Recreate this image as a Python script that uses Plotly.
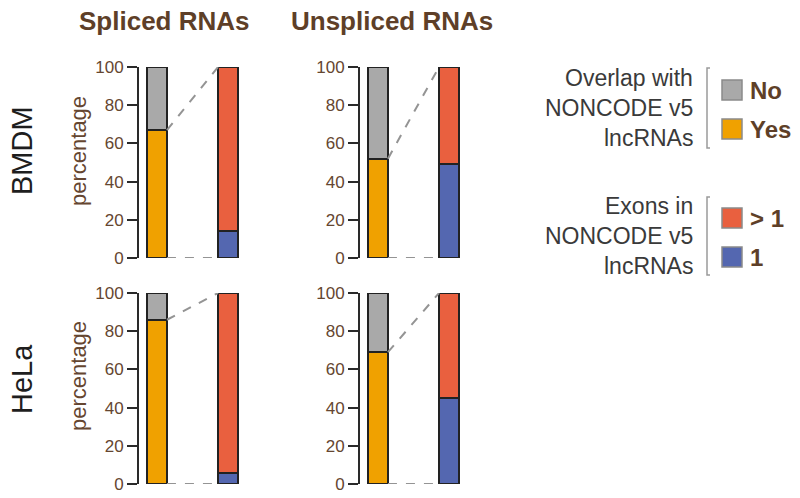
import plotly.graph_objects as go

W, H = 800, 498

# ---- data ----
cells = ["BMDM", "HeLa"]
rna_types = ["Spliced RNAs", "Unspliced RNAs"]
# overlap with NONCODE v5 lncRNAs (% Yes); No = 100 - Yes
overlap_yes = {("BMDM", "Spliced RNAs"): 67, ("BMDM", "Unspliced RNAs"): 52,
               ("HeLa", "Spliced RNAs"): 86, ("HeLa", "Unspliced RNAs"): 69}
# exons in NONCODE v5 lncRNAs (% with 1 exon); >1 = 100 - one
exon_one = {("BMDM", "Spliced RNAs"): 14, ("BMDM", "Unspliced RNAs"): 49,
            ("HeLa", "Spliced RNAs"): 6, ("HeLa", "Unspliced RNAs"): 45}
tick_vals = [0, 20, 40, 60, 80, 100]
overlap_labels = ["No", "Yes"]
overlap_colors = ["#a9a9a9", "#f0a100"]
exon_labels = ["> 1", "1"]
exon_colors = ["#e9603f", "#5467b0"]

BROWN = "#5e3f28"
TICKBROWN = "#654630"
FONT = "Liberation Sans, Arial, sans-serif"

def px(x):
    return x / W

def py(y):
    return 1 - y / H

BAR_W = 0.28
col_x = [(139, 245), (360, 466)]
row_y = [(67, 258), (293, 484)]
xr = [1 - 18 / 71, 2 + 17 / 71]

fig = go.Figure()
layout = {}
shapes = []
annotations = []
idx = 0
for r, cell in enumerate(cells):
    for c, rt in enumerate(rna_types):
        idx += 1
        xa = "x" if idx == 1 else f"x{idx}"
        ya = "y" if idx == 1 else f"y{idx}"
        yes = overlap_yes[(cell, rt)]
        one = exon_one[(cell, rt)]
        stack = [(1, yes, overlap_colors[1]), (1, 100 - yes, overlap_colors[0]),
                 (2, one, exon_colors[1]), (2, 100 - one, exon_colors[0])]
        for xv, val, col in stack:
            fig.add_trace(go.Bar(x=[xv], y=[val], width=BAR_W, xaxis=xa, yaxis=ya,
                                 marker=dict(color=col, line=dict(color="#222222", width=2)),
                                 showlegend=False, cliponaxis=False, hoverinfo="skip"))
        layout["xaxis" if idx == 1 else f"xaxis{idx}"] = dict(
            domain=[px(col_x[c][0]), px(col_x[c][1])], range=xr, visible=False,
            anchor=ya, automargin=False)
        layout["yaxis" if idx == 1 else f"yaxis{idx}"] = dict(
            domain=[py(row_y[r][1]), py(row_y[r][0])], range=[0, 100], anchor=xa,
            showline=True, linecolor="#2a2a2a", linewidth=2, ticks="outside",
            ticklen=10, tickwidth=2, tickcolor="#2a2a2a", tickvals=tick_vals,
            showgrid=False, zeroline=False, automargin=False,
            tickfont=dict(family=FONT, size=17, color=TICKBROWN))
        # connector dashed lines
        shapes.append(dict(type="line", xref=xa, yref=ya, x0=1 + BAR_W / 2, y0=yes,
                           x1=2 - BAR_W / 2, y1=100,
                           line=dict(color="#949494", width=2, dash="dash")))
        shapes.append(dict(type="line", xref=xa, yref=ya, x0=1 + BAR_W / 2, y0=0,
                           x1=2 - BAR_W / 2, y1=0,
                           line=dict(color="#949494", width=2, dash="dash")))

def note(text, x, y, size, color, angle=0, xanchor="center"):
    annotations.append(dict(text=text, x=px(x), y=py(y), xref="paper", yref="paper",
                            showarrow=False, textangle=angle, xanchor=xanchor,
                            yanchor="middle",
                            font=dict(family=FONT, size=size, color=color)))

# column titles
for c, rt in enumerate(rna_types):
    note(f"<b>{rt}</b>", [164, 392][c], 21, 26, BROWN)
# row labels and axis titles
for r, cell in enumerate(cells):
    note(cell, 22, [151, 379][r], 29, "#1e1e1e", angle=-90)
    note("percentage", 78, [151, 376][r], 22, TICKBROWN, angle=-90)

# legends
legend_groups = [
    (["Overlap with", "NONCODE v5", "lncRNAs"], overlap_labels, overlap_colors, 78, (68, 148), [90, 129]),
    (["Exons in", "NONCODE v5", "lncRNAs"], exon_labels, exon_colors, 206, (197, 275), [218, 257]),
]
for title_lines, labels, colors, ty0, (b0, b1), item_y in legend_groups:
    for i, line in enumerate(title_lines):
        note(line, 695, ty0 + 30 * i, 23, "#3a3a3a", xanchor="right")
    shapes.append(dict(type="path", xref="paper", yref="paper",
                       path=f"M {px(710)} {py(b0)} L {px(707)} {py(b0)} L {px(707)} {py(b1)} L {px(710)} {py(b1)}",
                       line=dict(color="#9a9a9a", width=1.5)))
    for lab, col, yy in zip(labels, colors, item_y):
        shapes.append(dict(type="rect", xref="paper", yref="paper",
                           x0=px(722), x1=px(742), y0=py(yy + 10), y1=py(yy - 10),
                           fillcolor=col, line=dict(color="#8a8a8a", width=1.5)))
        note(f"<b>{lab}</b>", 748, yy, 24, BROWN, xanchor="left")

fig.update_layout(width=W, height=H,
                  margin=dict(l=0, r=0, t=0, b=0, pad=0, autoexpand=False),
                  plot_bgcolor="white", paper_bgcolor="white", barmode="stack",
                  shapes=shapes, annotations=annotations, bargap=0, **layout)
fig.write_html("out.html", config={"displayModeBar": False, "staticPlot": True},
               post_script="document.body.style.margin='0';document.body.style.overflow='hidden';")
